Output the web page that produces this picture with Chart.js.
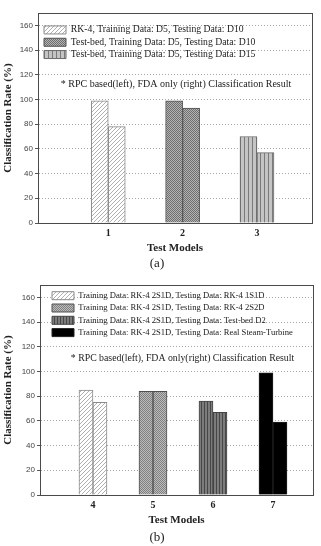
<!DOCTYPE html>
<html>
<head>
<meta charset="utf-8">
<script src="https://cdn.jsdelivr.net/npm/chart.js@4.4.1/dist/chart.umd.min.js"></script>
<style>
  body { margin: 0; background: #fff; width: 321px; height: 546px; position: relative; overflow: hidden; }
  .box { position: absolute; left: 0; width: 321px; height: 258px; }
  .cap { position: absolute; left: 0; width: 314px; text-align: center; font: 13px "Liberation Serif", serif; color: #222; line-height: 15px; }
</style>
</head>
<body>
<div class="box" style="top:0"><canvas id="chartA" width="321" height="258"></canvas></div>
<div class="cap" style="top:255px">(a)</div>
<div class="box" style="top:272px"><canvas id="chartB" width="321" height="258"></canvas></div>
<div class="cap" style="top:529px">(b)</div>
<script>
// chart (a)
const modelsA = [1, 2, 3];
const rpcA = [99, 99, 70];
const fdaA = [78, 93, 57];
const legendA = [
  'RK-4, Training Data: D5, Testing Data: D10',
  'Test-bed, Training Data: D5, Testing Data: D10',
  'Test-bed, Training Data: D5, Testing Data: D15'
];
// chart (b)
const modelsB = [4, 5, 6, 7];
const rpcB = [85, 84, 76, 99];
const fdaB = [75, 84, 67, 59];
const legendB = [
  'Training Data: RK-4 2S1D, Testing Data: RK-4 1S1D',
  'Training Data: RK-4 2S1D, Testing Data: RK-4 2S2D',
  'Training Data: RK-4 2S1D, Testing Data: Test-bed D2',
  'Training Data: RK-4 2S1D, Testing Data: Real Steam-Turbine'
];
const yTicks = [0, 20, 40, 60, 80, 100, 120, 140, 160];

const SERIF = '"Liberation Serif", "Times New Roman", serif';
const SANS = '"Liberation Sans", Arial, sans-serif';
Chart.defaults.font.family = SERIF;
Chart.defaults.color = '#222';

// fill patterns like the origin plot
function pat(w, h, paint) {
  const c = document.createElement('canvas');
  c.width = w; c.height = h;
  paint(c.getContext('2d'));
  return c.getContext('2d').createPattern(c, 'repeat');
}
function hatch(bg, fg, s) {
  return pat(s, s, g => {
    g.fillStyle = bg; g.fillRect(0, 0, s, s);
    g.strokeStyle = fg; g.lineWidth = 1;
    g.beginPath();
    g.moveTo(0, s); g.lineTo(s, 0);
    g.moveTo(-1, 1); g.lineTo(1, -1);
    g.moveTo(s - 1, s + 1); g.lineTo(s + 1, s - 1);
    g.stroke();
  });
}
function checker(a, b) {
  return pat(2, 2, g => {
    g.fillStyle = b; g.fillRect(0, 0, 2, 2);
    g.fillStyle = a; g.fillRect(0, 0, 1, 1); g.fillRect(1, 1, 1, 1);
  });
}
function stripes(bg, fg, p) {
  return pat(p, 1, g => {
    g.fillStyle = bg; g.fillRect(0, 0, p, 1);
    g.fillStyle = fg; g.fillRect(0, 0, 1, 1);
  });
}

const frame = {
  id: 'frame',
  beforeDraw(chart, args, o) {
    // legend sits inside the plot, top-left
    const lg = chart.legend;
    lg.left = chart.chartArea.left + o.legendDx;
    lg.top = chart.chartArea.top + o.legendDy;
  },
  afterDatasetsDraw(chart, args, o) {
    const { ctx, chartArea: a, scales: { y } } = chart;
    ctx.save();
    ctx.strokeStyle = '#4a4a4a';
    ctx.lineWidth = 1;
    ctx.strokeRect(Math.round(a.left) + 0.5, Math.round(a.top) + 0.5,
      Math.round(a.right) - Math.round(a.left), Math.round(a.bottom) - Math.round(a.top));
    ctx.font = o.noteFont;
    ctx.fillStyle = '#222';
    ctx.textAlign = 'center';
    ctx.textBaseline = 'middle';
    ctx.fillText(o.note, (a.left + a.right) / 2 + o.noteDx, y.getPixelForValue(o.noteAt));
    ctx.restore();
  }
};

function makeChart(id, models, rpc, fda, names, fills, borders, opt) {
  const pts = vals => models.map((m, i) => ({ x: m, y: vals[i] }));
  return new Chart(document.getElementById(id), {
    type: 'bar',
    data: {
      datasets: [
        { label: 'RPC based', data: pts(rpc), backgroundColor: fills, borderColor: borders, borderWidth: 1 },
        { label: 'FDA only', data: pts(fda), backgroundColor: fills, borderColor: borders, borderWidth: 1 }
      ]
    },
    options: {
      responsive: false,
      animation: false,
      barThickness: opt.bar,
      layout: { padding: { top: 13, left: 0, right: 321 - opt.right, bottom: 0 } },
      scales: {
        x: {
          type: 'linear',
          min: opt.xMin,
          max: opt.xMax,
          offset: false,
          afterBuildTicks: s => { s.ticks = models.map(v => ({ value: v })); },
          afterFit: s => { s.height = 258 - 223; },
          grid: { display: false, offset: false, drawTicks: false },
          border: { display: true, color: '#4a4a4a' },
          ticks: { padding: 4, color: '#222', font: { family: SERIF, size: 10, weight: 'bold' } },
          title: { display: true, text: 'Test Models', color: '#222', padding: { top: 0, bottom: 3 },
                   font: { family: SERIF, size: 11, weight: 'bold' } }
        },
        y: {
          min: 0,
          max: 170,
          afterBuildTicks: s => { s.ticks = yTicks.map(v => ({ value: v })); },
          afterFit: s => { s.width = opt.left; },
          grid: { color: '#a8a8a8', tickColor: '#555', tickLength: 3, tickBorderDash: [] },
          border: { display: true, color: '#4a4a4a', dash: [1, 2] },
          ticks: { padding: 2, color: '#444', font: { family: SANS, size: 8 } },
          title: { display: true, text: 'Classification Rate (%)', color: '#222', padding: { top: 2, bottom: 0 },
                   font: { family: SERIF, size: 11, weight: 'bold' } }
        }
      },
      plugins: {
        tooltip: { enabled: false },
        legend: {
          position: 'chartArea',
          align: 'start',
          onClick: null,
          labels: {
            boxWidth: 22,
            boxHeight: 8,
            padding: opt.legendGap,
            color: '#222',
            font: { family: SERIF, size: opt.legendSize },
            generateLabels: () => names.map((t, i) => ({
              text: t, fillStyle: fills[i], strokeStyle: borders[i], lineWidth: 1,
              hidden: false, datasetIndex: 0, fontColor: '#222'
            }))
          }
        },
        frame: opt.frame
      }
    },
    plugins: [frame]
  });
}

const hatchFill = hatch('#ffffff', '#b0b0b0', 4);

makeChart('chartA', modelsA, rpcA, fdaA, legendA,
  [hatchFill, checker('#6e6e6e', '#b4b4b4'), stripes('#c4c4c4', '#7a7a7a', 4)],
  ['#8a8a8a', '#505050', '#6a6a6a'],
  {
    left: 38, right: 312, xMin: 0.055, xMax: 3.74, bar: 17, legendSize: 9.7, legendGap: 2.6,
    frame: { legendDx: 3.4, legendDy: 9.5, note: '* RPC based(left), FDA only (right) Classification Result',
             noteFont: '10px ' + SERIF, noteAt: 112, noteDx: 1 }
  });

makeChart('chartB', modelsB, rpcB, fdaB, legendB,
  [hatchFill, checker('#808080', '#bcbcbc'), stripes('#7c7c7c', '#474747', 3), '#000000'],
  ['#8a8a8a', '#505050', '#444444', '#222222'],
  {
    left: 40, right: 313, xMin: 3.117, xMax: 7.667, bar: 14, legendSize: 8.6, legendGap: 3.7,
    frame: { legendDx: 8.3, legendDy: 2.7, note: '* RPC based(left), FDA only(right) Classification Result',
             noteFont: '9.8px ' + SERIF, noteAt: 110.5, noteDx: 6 }
  });
</script>
</body>
</html>
